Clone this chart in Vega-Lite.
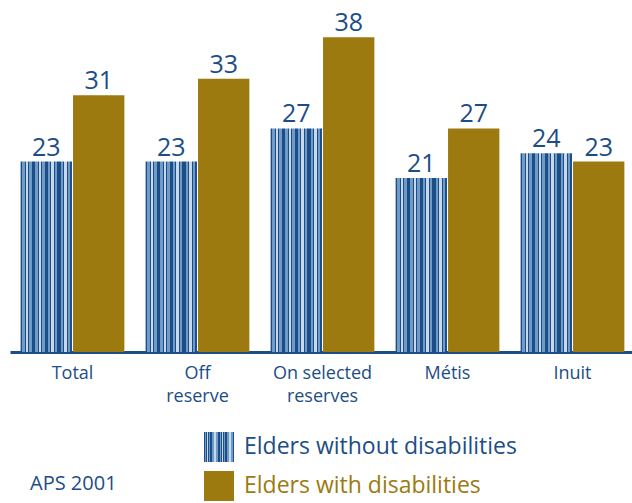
{
  "$schema": "https://vega.github.io/schema/vega-lite/v6.json",
  "width": 625,
  "height": 352,
  "padding": {"left": 10, "top": 0, "right": 0, "bottom": 0},
  "background": "white",
  "params": [
    {"name": "stripe", "value": {"gradient": "linear", "x1": 0, "y1": 0, "x2": 1, "y2": 0, "stops": [
      {"offset": 0, "color": "#1c4d86"}, {"offset": 0.03, "color": "#1c4d86"}, {"offset": 0.03, "color": "#6f9bc8"}, {"offset": 0.08, "color": "#6f9bc8"}, {"offset": 0.08, "color": "#1c4d86"}, {"offset": 0.10, "color": "#1c4d86"}, {"offset": 0.10, "color": "#c9d9ea"}, {"offset": 0.145, "color": "#c9d9ea"}, {"offset": 0.145, "color": "#1c4d86"}, {"offset": 0.165, "color": "#1c4d86"}, {"offset": 0.165, "color": "#6f9bc8"}, {"offset": 0.215, "color": "#6f9bc8"}, {"offset": 0.215, "color": "#1c4d86"}, {"offset": 0.25, "color": "#1c4d86"},
      {"offset": 0.28, "color": "#1c4d86"}, {"offset": 0.28, "color": "#6f9bc8"}, {"offset": 0.33, "color": "#6f9bc8"}, {"offset": 0.33, "color": "#1c4d86"}, {"offset": 0.35, "color": "#1c4d86"}, {"offset": 0.35, "color": "#c9d9ea"}, {"offset": 0.395, "color": "#c9d9ea"}, {"offset": 0.395, "color": "#1c4d86"}, {"offset": 0.415, "color": "#1c4d86"}, {"offset": 0.415, "color": "#6f9bc8"}, {"offset": 0.465, "color": "#6f9bc8"}, {"offset": 0.465, "color": "#1c4d86"}, {"offset": 0.5, "color": "#1c4d86"},
      {"offset": 0.53, "color": "#1c4d86"}, {"offset": 0.53, "color": "#6f9bc8"}, {"offset": 0.58, "color": "#6f9bc8"}, {"offset": 0.58, "color": "#1c4d86"}, {"offset": 0.60, "color": "#1c4d86"}, {"offset": 0.60, "color": "#c9d9ea"}, {"offset": 0.645, "color": "#c9d9ea"}, {"offset": 0.645, "color": "#1c4d86"}, {"offset": 0.665, "color": "#1c4d86"}, {"offset": 0.665, "color": "#6f9bc8"}, {"offset": 0.715, "color": "#6f9bc8"}, {"offset": 0.715, "color": "#1c4d86"}, {"offset": 0.75, "color": "#1c4d86"},
      {"offset": 0.78, "color": "#1c4d86"}, {"offset": 0.78, "color": "#6f9bc8"}, {"offset": 0.83, "color": "#6f9bc8"}, {"offset": 0.83, "color": "#1c4d86"}, {"offset": 0.85, "color": "#1c4d86"}, {"offset": 0.85, "color": "#c9d9ea"}, {"offset": 0.895, "color": "#c9d9ea"}, {"offset": 0.895, "color": "#1c4d86"}, {"offset": 0.915, "color": "#1c4d86"}, {"offset": 0.915, "color": "#6f9bc8"}, {"offset": 0.965, "color": "#6f9bc8"}, {"offset": 0.965, "color": "#1c4d86"}, {"offset": 1, "color": "#1c4d86"}
    ]}}
  ],
  "data": {"values": [
    {"group": "Total", "series": "Elders without disabilities", "value": 23},
    {"group": "Total", "series": "Elders with disabilities", "value": 31},
    {"group": "Off|reserve", "series": "Elders without disabilities", "value": 23},
    {"group": "Off|reserve", "series": "Elders with disabilities", "value": 33},
    {"group": "On selected|reserves", "series": "Elders without disabilities", "value": 27},
    {"group": "On selected|reserves", "series": "Elders with disabilities", "value": 38},
    {"group": "Métis", "series": "Elders without disabilities", "value": 21},
    {"group": "Métis", "series": "Elders with disabilities", "value": 27},
    {"group": "Inuit", "series": "Elders without disabilities", "value": 24},
    {"group": "Inuit", "series": "Elders with disabilities", "value": 23}
  ]},
  "title": {"text": "APS 2001", "orient": "bottom", "anchor": "start", "dx": 20, "offset": -27, "font": "Open Sans", "fontSize": 20, "fontWeight": "normal", "color": "#1c4d86"},
  "encoding": {
    "x": {"field": "group", "type": "nominal", "sort": null,
      "scale": {"paddingInner": 0.17, "paddingOuter": 0.085},
      "axis": {"title": null, "labelAngle": 0, "ticks": false, "labelPadding": 12,
        "labelExpr": "split(datum.label, '|')", "labelFont": "Open Sans", "labelFontSize": 18,
        "labelColor": "#1c4d86", "labelLineHeight": 23, "domainColor": "#1c4d86", "domainWidth": 3}},
    "xOffset": {"field": "series", "type": "nominal", "scale": {"domain": ["Elders without disabilities", "Elders with disabilities"], "paddingInner": 0.02}},
    "y": {"field": "value", "type": "quantitative", "scale": {"domain": [0, 42.5], "nice": false}, "axis": null}
  },
  "layer": [
    {
      "mark": {"type": "bar"},
      "encoding": {
        "fill": {"field": "series", "type": "nominal",
          "scale": {"domain": ["Elders without disabilities", "Elders with disabilities"], "range": [{"expr": "stripe"}, "#9c7a10"]},
          "legend": {"title": null, "orient": "none", "legendX": 194, "legendY": 432, "padding": 0,
            "symbolType": "square", "symbolSize": 900, "symbolStrokeWidth": 0, "rowPadding": 9,
            "labelFont": "Open Sans", "labelFontSize": 23, "labelOffset": 10, "labelLimit": 400,
            "encode": {
              "labels": {"update": {"fill": {"signal": "datum.value === 'Elders with disabilities' ? '#9c7a10' : '#1c4d86'"}}}
            }}}
      }
    },
    {
      "mark": {"type": "text", "baseline": "alphabetic", "dy": -6, "font": "Open Sans", "fontSize": 25, "color": "#1c4d86"},
      "encoding": {"text": {"field": "value", "type": "quantitative"}}
    }
  ],
  "config": {"view": {"stroke": null}}
}
